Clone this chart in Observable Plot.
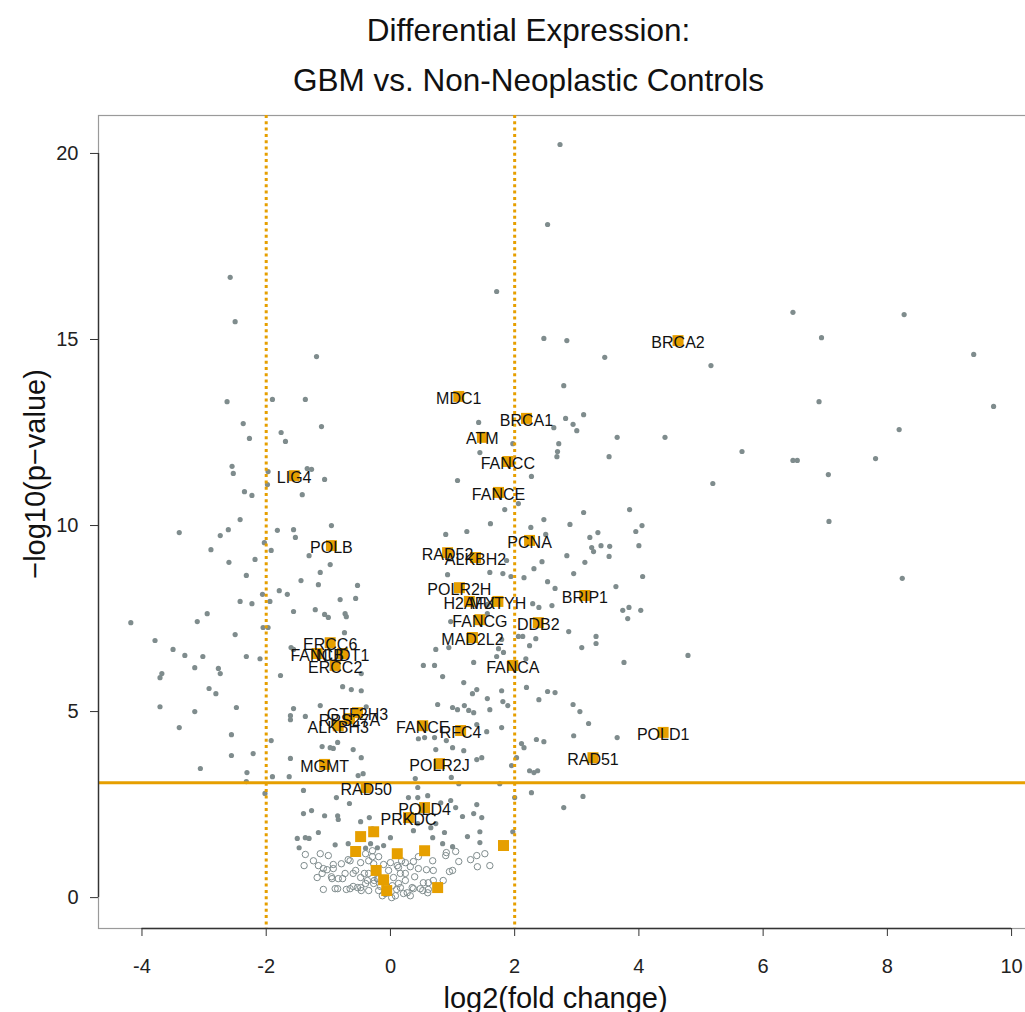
<!DOCTYPE html>
<html><head><meta charset="utf-8">
<script src="https://cdn.jsdelivr.net/npm/d3@7"></script>
<script src="https://cdn.jsdelivr.net/npm/@observablehq/plot@0.6"></script>
<style>html,body{margin:0;padding:0;background:#fff;overflow:hidden;} #chart svg{display:block;max-width:none !important;width:1030px !important;height:1012px !important;}</style>
</head><body><div id="chart"></div>
<script>
// significant genes (p < 0.05): [log2 fold change, -log10 p]
const sigPoints = [
[-2.58,16.67],[-2.50,15.48],[-1.19,14.54],[2.73,20.24],[2.53,18.09],[1.71,16.29],[2.47,15.03],[2.84,14.97],[3.45,14.52],[5.16,14.30],[2.79,13.76],[6.48,15.73],[6.94,15.05],[8.27,15.67],[9.39,14.60],
[6.90,13.33],[9.71,13.20],[8.19,12.58],[5.66,11.99],[6.48,11.75],[6.55,11.75],[7.81,11.80],[7.05,11.37],[7.06,10.11],[8.24,8.58],
[3.11,12.98],[2.82,12.88],[2.94,12.72],[3.00,12.55],[2.63,12.63],[1.42,12.77],[3.65,12.37],[4.42,12.37],[2.71,12.20],[1.97,12.20],[2.69,11.99],[2.68,11.85],[1.44,11.96],[3.52,11.85],[2.27,11.32],[1.08,11.21],[5.19,11.13],[3.85,10.43],[3.11,10.35],[1.84,10.43],[2.06,10.59],[2.47,10.16],[1.61,10.05],[2.26,9.95],[2.89,10.03],[4.05,10.00],[3.95,9.84],[0.89,9.76],[1.23,9.84],[2.50,9.76],[3.21,9.68],[3.34,9.81],[3.24,9.41],[3.39,9.46],[3.53,9.44],[4.00,9.46],[3.27,9.30],[2.84,9.19],[3.52,9.17],[2.44,9.03],[3.13,9.01],[1.87,9.06],[2.31,8.84],[1.60,8.74],[1.81,8.71],[0.92,8.68],[1.94,8.63],[2.15,8.60],[2.95,8.71],[4.06,8.63],[2.53,8.49],[2.65,8.31],[3.63,8.36],[3.15,8.04],[2.29,7.90],[2.39,7.80],[2.60,7.85],[3.74,7.72],[3.84,7.80],[4.03,7.72],[3.82,7.50],[1.56,7.88],[1.56,7.63],[0.97,7.42],[2.87,7.15],[2.06,7.02],[2.13,7.02],[2.34,6.96],[1.79,6.94],[3.31,7.02],[3.31,6.83],[3.08,6.72],[2.24,6.77],[0.73,6.67],[0.94,6.72],[1.74,6.69],[1.82,6.59],[4.79,6.51],[2.18,6.42],[1.71,6.48],
[-2.63,13.33],[-1.90,13.39],[-1.37,13.39],[-2.37,12.74],[-1.11,12.66],[-1.76,12.50],[-2.27,12.34],[-1.69,12.26],[-2.55,11.59],[-2.53,11.40],[-1.97,11.45],[-1.34,11.53],[-1.27,11.51],[-1.06,11.24],[-1.98,11.10],[-2.35,10.91],[-2.23,10.81],[-1.42,10.83],[-2.42,10.16],[-0.95,10.00],[-3.40,9.81],[-2.61,9.89],[-2.74,9.73],[-1.82,9.87],[-1.56,9.89],[-1.53,9.68],[-2.03,9.54],[-1.92,9.33],[-2.89,9.35],[-1.31,9.19],[-2.60,9.01],[-2.18,9.09],[-0.97,8.95],[-1.13,8.74],[-2.32,8.66],[-1.44,8.52],[-1.16,8.41],[-0.53,8.39],[-2.06,8.15],[-1.79,8.25],[-1.66,8.15],[-1.94,7.96],[-2.42,7.96],[-2.23,7.90],[-0.81,8.01],[-0.56,8.04],[-1.56,7.69],[-1.21,7.74],[-1.06,7.61],[-1.00,7.53],[-0.73,7.63],[-0.71,7.55],[-2.95,7.63],[-3.11,7.42],[-4.18,7.39],[-2.05,7.26],[-1.97,7.26],[-2.50,7.07],[-0.74,7.12],[-3.79,6.91],[-3.50,6.67],[-3.31,6.51],[-3.02,6.48],[-2.32,6.48],[-2.10,6.42],[-1.60,6.72],[-1.56,6.67],
[-3.15,6.18],[-2.77,6.16],[-2.74,6.02],[-3.68,6.02],[-3.71,5.91],[-1.77,5.97],[-2.92,5.62],[-2.81,5.48],[-3.71,5.13],[-3.15,5.00],[-2.48,5.11],[-3.40,4.57],[-2.56,4.38],[-2.21,3.87],[-2.56,3.82],[-3.06,3.47],[-2.31,3.36],[-2.32,3.12],[-1.92,4.22],[-1.61,3.74],[-1.63,3.25],[-1.90,3.25],[-2.02,2.80],[-1.40,2.88],[-1.61,4.89],[-1.61,4.78],[-1.37,4.87],[-1.56,5.08],[-1.13,5.16],[-0.77,5.67],[-0.63,5.59],[-0.47,5.56],[-0.47,6.02],[-0.39,5.13],[-1.10,4.06],[-0.97,4.03],[-0.92,4.01],[-0.85,4.17],[-0.60,3.98],[-0.47,3.76],[-0.52,3.28],[-0.44,3.33],[-0.87,2.69],[-0.66,2.53],[-1.40,2.26],[-1.27,2.34],[-1.06,2.20],[-0.85,2.20],[-0.84,2.10],[-0.48,2.04],[-0.34,2.15],[-0.29,1.85],[-1.16,1.75],[-1.50,1.59],[-1.37,1.61],[-1.31,1.59],[-0.89,1.42],[-1.47,1.34],[-0.32,1.45],[0.29,2.69],
[-0.68,1.45],[0.44,2.96],[0.65,1.88],[0.37,1.80],[0.00,1.61],[-0.21,1.34],[-0.40,1.33],[-0.11,1.40],
[0.53,6.24],[0.71,6.24],[1.34,6.32],[3.76,6.32],[0.84,5.94],[1.18,5.78],[1.39,5.59],[1.32,5.48],[1.79,5.56],[2.19,5.65],[2.53,5.54],[2.65,5.51],[1.56,5.35],[1.81,5.27],[1.89,5.16],[2.39,5.32],[2.94,5.19],[3.05,5.00],[0.76,5.19],[1.00,5.11],[1.08,5.05],[1.19,5.16],[1.26,5.03],[1.34,4.97],[1.60,5.05],[3.19,4.68],[1.39,4.65],[1.79,4.57],[1.55,4.46],[2.95,4.35],[3.65,4.30],[2.35,4.25],[2.47,4.19],[2.11,4.14],[2.15,4.03],[0.45,4.27],[0.55,4.30],[0.71,4.30],[0.90,4.22],[1.00,4.03],[1.18,3.95],[0.73,3.98],[1.39,3.71],[1.47,3.76],[1.95,3.55],[2.03,3.76],[2.24,3.41],[2.31,3.36],[2.37,3.41],[0.98,3.23],[1.10,3.06],[1.76,3.06],[0.40,3.20],[2.27,2.82],[3.10,2.72],[2.79,2.42],[2.00,2.69],[0.44,2.69],[0.60,2.74],[0.81,2.55],[0.97,2.61],[1.05,2.42],[1.39,2.50],[1.16,2.18],[1.34,2.26],[1.47,2.15],[0.44,1.99],[0.73,1.99],[0.87,1.75],[1.24,1.64],[1.44,1.77],[1.97,1.77],[0.68,1.61],[0.84,1.45],[1.00,1.37],[1.44,1.48]
];
// non-significant genes (p >= 0.05)
const nsPoints = [
[-1.37,1.16],[-1.13,1.18],[-1.00,1.13],[-1.24,0.99],[-1.39,0.86],[-1.16,0.86],[-0.92,0.89],[-0.79,0.91],[-0.68,1.02],[-0.55,1.21],[-0.40,1.18],[-0.56,0.73],[-1.02,0.75],[-1.10,0.65],[-1.18,0.54],[-0.95,0.56],[-0.77,0.51],[-0.94,0.51],[-0.42,0.65],[-0.29,1.26],[-0.29,1.10],[-0.27,0.91],[-1.08,0.22],[-0.89,0.24],[-0.85,0.24],[-0.71,0.22],[-0.65,0.24],[-0.53,0.27],[-0.47,0.19],[-0.40,0.38],[-0.35,0.19],[-0.26,0.46],[-0.19,0.51],[0.13,0.81],[0.18,0.99],[0.24,0.65],[0.16,0.27],[0.21,0.11],[0.32,0.05],[0.02,0.00],[-0.08,0.11],[-0.19,0.19],
[1.05,1.24],[0.90,1.21],[1.52,1.18],[1.39,1.13],[1.29,1.02],[1.10,0.97],[1.60,0.86],[1.40,0.83],[1.00,0.73],[0.95,0.70],[0.69,0.73],[0.58,0.75],[0.45,0.78],[0.37,0.97],[0.39,0.56],[0.53,0.40],[0.61,0.40],[0.52,0.19],[0.61,0.22],[0.37,0.24],
[-1.08,0.78],[-0.92,0.78],[-0.65,0.99],[-0.48,0.94],[-0.35,0.99],[-0.19,1.10],[-0.11,0.89],[0.00,0.94],[0.24,0.94],[0.32,0.83],[0.45,1.10],[0.68,0.99],[0.89,1.13],[-0.60,0.30],[-0.48,0.27],[-0.37,0.46],[-0.27,0.38],[-0.16,0.30],[0.08,0.05],[0.27,0.13],[0.35,0.27],[0.48,0.24],[0.60,0.13],[0.69,0.46],[0.85,0.46],[0.05,0.54],[0.16,0.65],[0.24,0.46],[-0.35,0.65],[-0.48,0.54],[-0.60,0.65],[-0.73,0.65],[-0.84,0.51],[0.13,0.38],[-0.21,0.51],[-0.03,0.73],[0.11,0.86],
[-0.06,0.19],[0.03,0.32],[0.10,0.22],[-0.13,0.05]
];
// labelled DNA-repair genes
const geneNames = ["BRCA2","MDC1","BRCA1","ATM","FANCC","LIG4","FANCE","PCNA","POLB","RAD52","ALKBH2","POLR2H","H2AFX","MUTYH","BRIP1","FANCG","DDB2","MAD2L2","ERCC6","FANCB","NUDT1","ERCC2","FANCA","GTF2H3","RPS27A","ALKBH3","FANCE","RFC4","POLD1","RAD51","POLR2J","MGMT","RAD50","POLD4","PRKDC"];
const geneX = [4.63,1.10,2.19,1.48,1.89,-1.55,1.74,2.24,-0.95,0.92,1.37,1.11,1.27,1.73,3.13,1.44,2.38,1.32,-0.97,-1.18,-0.77,-0.89,1.97,-0.53,-0.66,-0.84,0.52,1.13,4.39,3.26,0.79,-1.06,-0.39,0.55,0.29];
const geneY = [14.97,13.47,12.88,12.37,11.72,11.34,10.89,9.60,9.46,9.27,9.14,8.33,7.96,7.96,8.12,7.47,7.39,6.99,6.85,6.56,6.56,6.24,6.24,4.97,4.81,4.62,4.62,4.49,4.44,3.76,3.60,3.58,2.96,2.42,2.15];
// unlabelled DNA-repair genes
const otherRepairX = [-0.48,-0.27,-0.56,0.11,0.55,-0.23,-0.11,-0.06,0.76,1.82];
const otherRepairY = [1.64,1.77,1.24,1.18,1.26,0.73,0.48,0.19,0.27,1.40];

const xTicks = [-4,-2,0,2,4,6,8,10];
const yTicks = [0,5,10,15,20];
const foldCutoffs = [-2,2];
const pCutoff = [3.09];
const xDomain = [-4.70,10.24];
const yDomain = [-0.83,21.02];
const titleLines = ["Differential Expression:","GBM vs. Non-Neoplastic Controls"];
const xLabel = "log2(fold change)";
const yLabel = "\u2212log10(p\u2212value)";

const ORANGE = "#E69F00";
const GREY = "#7f8c8d";

const genes = geneNames.map((n,i)=>({name:n,x:geneX[i],y:geneY[i]}));
const others = otherRepairX.map((x,i)=>({x,y:otherRepairY[i]}));
const squares = genes.concat(others);

const chart = Plot.plot({
  width: 1030, height: 1012,
  marginTop: 115, marginBottom: 84, marginLeft: 98, marginRight: 4,
  x: {domain: xDomain, axis: null},
  y: {domain: yDomain, axis: null},
  style: {fontFamily: "'Liberation Sans', Arial, Helvetica, sans-serif", background: "#fff", color: "#111", maxWidth: "none", overflow: "visible"},
  marks: [
    Plot.frame({stroke: "#9a9a9a", strokeWidth: 1.2}),
    Plot.dot(nsPoints, {x: d=>d[0], y: d=>d[1], r: 3.2, fill: "none", stroke: GREY, strokeWidth: 1}),
    Plot.dot(sigPoints, {x: d=>d[0], y: d=>d[1], r: 2.6, fill: GREY, stroke: "none"}),
    Plot.ruleX(foldCutoffs, {stroke: ORANGE, strokeWidth: 3, strokeDasharray: "3,3.3"}),
    Plot.ruleY(pCutoff, {stroke: ORANGE, strokeWidth: 3}),
    Plot.dot(squares, {x: "x", y: "y", symbol: "square", r: 6.2, fill: ORANGE, stroke: "none"}),
    Plot.text(genes, {x: "x", y: "y", text: "name", fontSize: 16, fill: "#111", dy: 2}),
    Plot.ruleY([yDomain[0]], {x1: xTicks[0], x2: xTicks[xTicks.length-1], stroke: "#333", strokeWidth: 1.4}),
    Plot.ruleX([xDomain[0]], {y1: yTicks[0], y2: yTicks[yTicks.length-1], stroke: "#333", strokeWidth: 1.4}),
    Plot.axisX(xTicks, {tickSize: 8, tickPadding: 22, fontSize: 20, tickFormat: d=>String(d), stroke: "#333", fill: "#222", label: null}),
    Plot.axisY(yTicks, {tickSize: 8, tickPadding: 12, fontSize: 20, tickFormat: d=>String(d), stroke: "#333", fill: "#222", label: null}),
    Plot.text([xLabel], {text: d=>d, frameAnchor: "bottom", textAnchor: "middle", lineAnchor: "middle", dx: -7, dy: 70, fontSize: 29, fill: "#111"}),
    Plot.text([yLabel], {text: d=>d, frameAnchor: "left", textAnchor: "middle", lineAnchor: "middle", dx: -63, dy: -48, rotate: -90, fontSize: 29, fill: "#111"}),
    Plot.text([titleLines[0]], {text: d=>d, frameAnchor: "top", textAnchor: "middle", lineAnchor: "middle", dx: -34, dy: -85, fontSize: 31.5, fill: "#111"}),
    Plot.text([titleLines[1]], {text: d=>d, frameAnchor: "top", textAnchor: "middle", lineAnchor: "middle", dx: -34, dy: -35, fontSize: 31.5, fill: "#111"})
  ]
});
document.getElementById("chart").appendChild(chart);
</script>
</body></html>
